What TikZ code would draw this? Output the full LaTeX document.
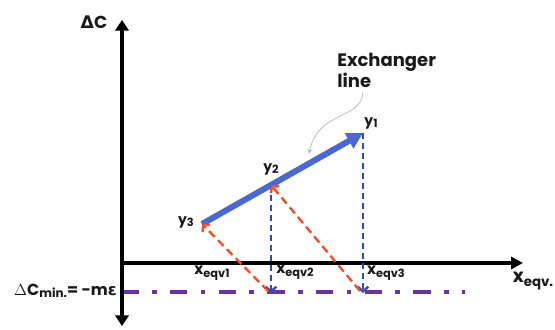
\documentclass[tikz,border=0pt]{standalone}
\usepackage{fontspec}
\setmainfont{Poppins}
\newfontfamily\grk{DejaVu Sans}
\usetikzlibrary{arrows.meta}
\definecolor{exblue}{HTML}{4A68D0}
\definecolor{dropblue}{HTML}{2F4CB0}
\definecolor{exred}{HTML}{F2502C}
\definecolor{expurple}{HTML}{7030A0}
\definecolor{exlav}{HTML}{B4BCE4}
\newcommand{\sub}[1]{\raisebox{-0.3ex}{\fontsize{8.5}{8.5}\selectfont #1}}

\begin{document}
\begin{tikzpicture}[x=0.75pt,y=-0.75pt,font=\bfseries,
  lbl/.style={inner sep=0pt,text=black!90},
  drop/.style={dropblue,line width=1.8pt,dash pattern=on 4.5pt off 3pt,-{Straight Barb[length=3.5pt,width=8pt]}},
  back/.style={exred,line width=1.8pt,dash pattern=on 6pt off 3.5pt,-{Straight Barb[length=3.5pt,width=8pt]}}]
\useasboundingbox (0,0) rectangle (555,329);
% axes
\draw[line width=3pt,{Triangle[width=10pt,length=8pt]}-{Triangle[width=10pt,length=8pt]}] (122,326) -- (122,20);
\draw[line width=2.4pt,-{Triangle[width=9pt,length=9pt]}] (121,263) -- (523,263);
\draw[expurple,line width=3pt,dash pattern=on 13pt off 10pt on 3.5pt off 10pt,dash phase=2pt] (124,292) -- (465,292);
% points on the exchanger line
\coordinate (p1) at (363,133);
\coordinate (p2) at (271,185);
\coordinate (p3) at (202,224);
\coordinate (f2) at (271,293);
\coordinate (f3) at (363,293);
\coordinate (r2) at (268,291);
\coordinate (r3) at (360,291);
\draw[exblue,line width=4.5pt,-{Triangle[width=12.5pt,length=12pt]}] (p3) -- (p1);
\draw[drop] (p2) -- (f2);
\draw[drop] (p1) -- (f3);
\draw[back] (r2) -- (p3);
\draw[back] (r3) -- (p2);
% labels
\node[lbl,font=\bfseries\fontsize{13}{13}\selectfont] (dc) at (94,22) {{\grk Δ}C};
\node[lbl,font=\bfseries\fontsize{10.5}{10.5}\selectfont] (l1) at (371,123) {y\sub{1}};
\node[lbl,font=\bfseries\fontsize{10.5}{10.5}\selectfont] (l2) at (271,169) {y\sub{2}};
\node[lbl,font=\bfseries\fontsize{10.5}{10.5}\selectfont] (l3) at (186,222) {y\sub{3}};
\node[lbl,font=\bfseries\fontsize{11.5}{11.5}\selectfont] (x1) at (212,273) {x\sub{eqv1}};
\node[lbl,font=\bfseries\fontsize{11.5}{11.5}\selectfont] (x2) at (295,272) {x\sub{eqv2}};
\node[lbl,font=\bfseries\fontsize{11.5}{11.5}\selectfont] (x3) at (386,273) {x\sub{eqv3}};
\node[lbl,font=\bfseries\fontsize{14}{14}\selectfont] (xe) at (533,281) {x\raisebox{-0.3ex}{\fontsize{10}{10}\selectfont eqv.}};
\node[lbl,anchor=east,font=\bfseries\fontsize{12}{12}\selectfont] (dcm) at (117,291) {$\Delta$C\raisebox{-0.3ex}{\fontsize{9}{9}\selectfont min.}= -m{\grk ε}};
\node[lbl,anchor=north west,align=left,font=\bfseries\fontsize{13.5}{12.5}\selectfont] (ex) at (337,53) {Exchanger\\line};
\coordinate (c0) at (363,92);
\coordinate (c1) at (309,154);
\draw[exlav,line width=0.6pt,-{Stealth[length=4pt,width=4pt]}] (c0) .. controls (362,120) and (318,110) .. (c1);
\end{tikzpicture}
\end{document}
